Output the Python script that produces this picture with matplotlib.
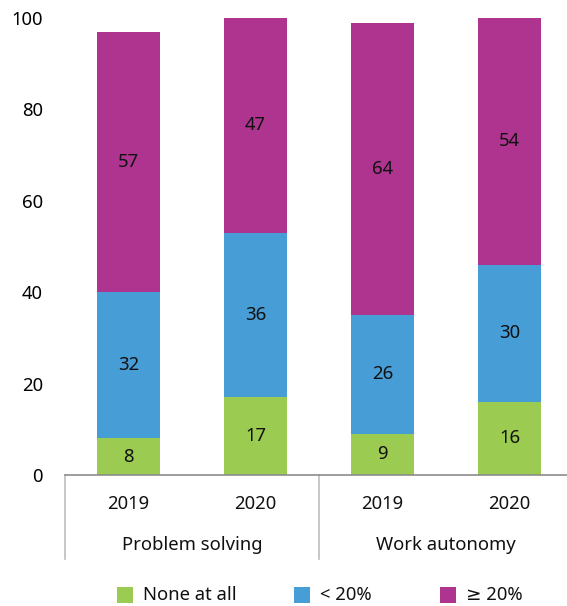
import matplotlib
matplotlib.use("Agg")
import matplotlib.pyplot as plt
from matplotlib.patches import Rectangle
import numpy as np

plt.rcParams["font.family"] = ["Noto Sans", "DejaVu Sans"]

groups = ["Problem solving", "Work autonomy"]
years = ["2019", "2020", "2019", "2020"]
series = ["None at all", "< 20%", "\u2265 20%"]
none_at_all = [8, 17, 9, 16]
under_20 = [32, 36, 26, 30]
over_20 = [57, 47, 64, 54]

colors = ["#9BCB50", "#479DD6", "#AE3490"]
FS = 13.3

W, H = 567, 606
fig = plt.figure(figsize=(W / 100, H / 100), dpi=100)
# plot area: x 65..573 px, y 18..475 px (image coords)
ax = fig.add_axes([65 / W, (H - 475) / H, (573 - 65) / W, (475 - 18) / H])

x = np.arange(len(years))
bottom = np.zeros(len(years))
for vals, col in zip([none_at_all, under_20, over_20], colors):
    vals = np.array(vals, dtype=float)
    ax.bar(x, vals, width=0.5, bottom=bottom, color=col, zorder=2)
    for xi, b, v in zip(x, bottom, vals):
        ax.text(xi, b + v / 2, f"{v:.0f}", ha="center", va="center",
                fontsize=FS, color="#111111", zorder=3)
    bottom += vals

ax.set_xlim(-0.5, 3.5)
ax.set_ylim(0, 100)
ax.set_yticks(range(0, 101, 20))
ax.tick_params(axis="y", length=0, labelsize=FS, pad=16)
ax.set_xticks([])
for s in ["top", "right", "left"]:
    ax.spines[s].set_visible(False)
ax.spines["bottom"].set_color("#8c8c8c")
ax.spines["bottom"].set_linewidth(1.2)

# two-level category axis below the plot
tr = ax.get_xaxis_transform()
for xv in [-0.5, 1.5]:
    ax.plot([xv, xv], [0, -0.184], transform=tr, color="#bdbdbd",
            linewidth=1.2, clip_on=False)
for xi, yr in zip(x, years):
    ax.text(xi, -0.063, yr, transform=tr, ha="center", va="center",
            fontsize=FS, color="#111111")
for gi, g in enumerate(groups):
    ax.text(gi * 2 + 0.5, -0.153, g, transform=tr, ha="center", va="center",
            fontsize=FS, color="#111111")

# legend entries placed along the bottom
legend_x = [117, 294, 440]
ly = 595
for lx, c, s in zip(legend_x, colors, series):
    fig.add_artist(Rectangle((lx / W, (H - ly - 8) / H), 16 / W, 16 / H,
                             transform=fig.transFigure, facecolor=c,
                             edgecolor="none"))
    fig.text((lx + 26) / W, (H - ly) / H, s, ha="left", va="center",
             fontsize=FS, color="#111111")

fig.savefig("out.png", dpi=100, facecolor="white")
